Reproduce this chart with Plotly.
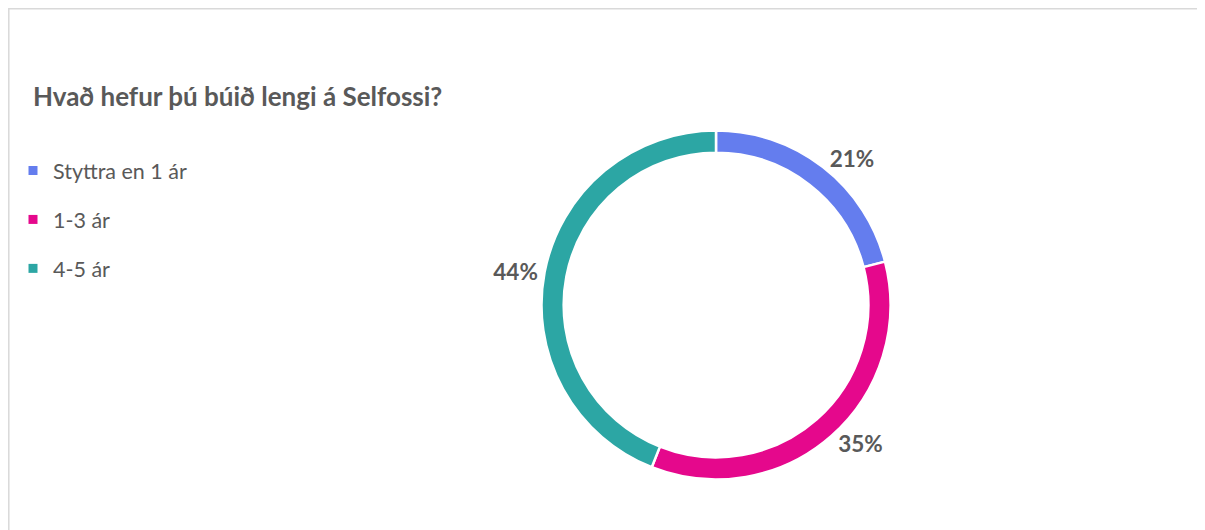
import plotly.graph_objects as go

# Data
categories = ["Styttra en 1 ár", "1-3 ár", "4-5 ár"]
shares = [21, 35, 44]
colors = ["#647DEE", "#E5088C", "#2CA6A4"]

title_text = "Hvað hefur þú búið lengi á Selfossi?"
text_grey = "#595959"
font_family = "Lato, 'Open Sans', sans-serif"

# the page adds an 8px body margin, so the figure is shrunk to fit the window
W, H = 1197, 522

cx, cy, r = 708, 297, 174.5   # ring centre / radius in figure pixels

fig = go.Figure(go.Pie(
    labels=categories,
    values=shares,
    hole=0.873,
    sort=False,
    direction="clockwise",
    rotation=0,
    marker=dict(colors=colors, line=dict(color="white", width=2.5)),
    texttemplate="%{value}%",
    textposition="outside",
    textfont=dict(size=22.5, color=text_grey, family=font_family, weight="bold"),
    hoverinfo="label+percent",
    showlegend=False,
    domain=dict(x=[(cx - 336) / W, (cx + 336) / W],
                y=[(H - cy - r) / H, (H - cy + r) / H]),
))

# legend entries as separate groups so the spacing can match Excel's
for name, col in zip(categories, colors):
    fig.add_trace(go.Scatter(
        x=[None], y=[None], mode="markers", name=name, legendgroup=name,
        marker=dict(symbol="square", size=9, color=col),
        hoverinfo="skip",
    ))

fig.update_layout(
    width=W, height=H,
    margin=dict(l=0, r=0, t=0, b=0, autoexpand=False),
    paper_bgcolor="white",
    plot_bgcolor="white",
    xaxis=dict(visible=False),
    yaxis=dict(visible=False),
    title=dict(
        text="<b>" + title_text + "</b>",
        x=25 / W, xref="container", xanchor="left",
        y=(H - 89) / H, yref="container", yanchor="middle",
        font=dict(size=26, color=text_grey, family=font_family),
    ),
    legend=dict(
        x=5 / W, y=(H - 142) / H, xref="container", yref="container",
        xanchor="left", yanchor="top",
        tracegroupgap=18,
        font=dict(size=21.5, color=text_grey, family=font_family),
        bgcolor="rgba(0,0,0,0)",
    ),
    shapes=[dict(
        type="rect", xref="paper", yref="paper",
        x0=0.8 / W, x1=1.05, y0=-0.05, y1=(H - 0.8) / H,
        line=dict(color="#D9D9D9", width=1.5), fillcolor="rgba(0,0,0,0)",
    )],
)

fig.write_html("out.html")
